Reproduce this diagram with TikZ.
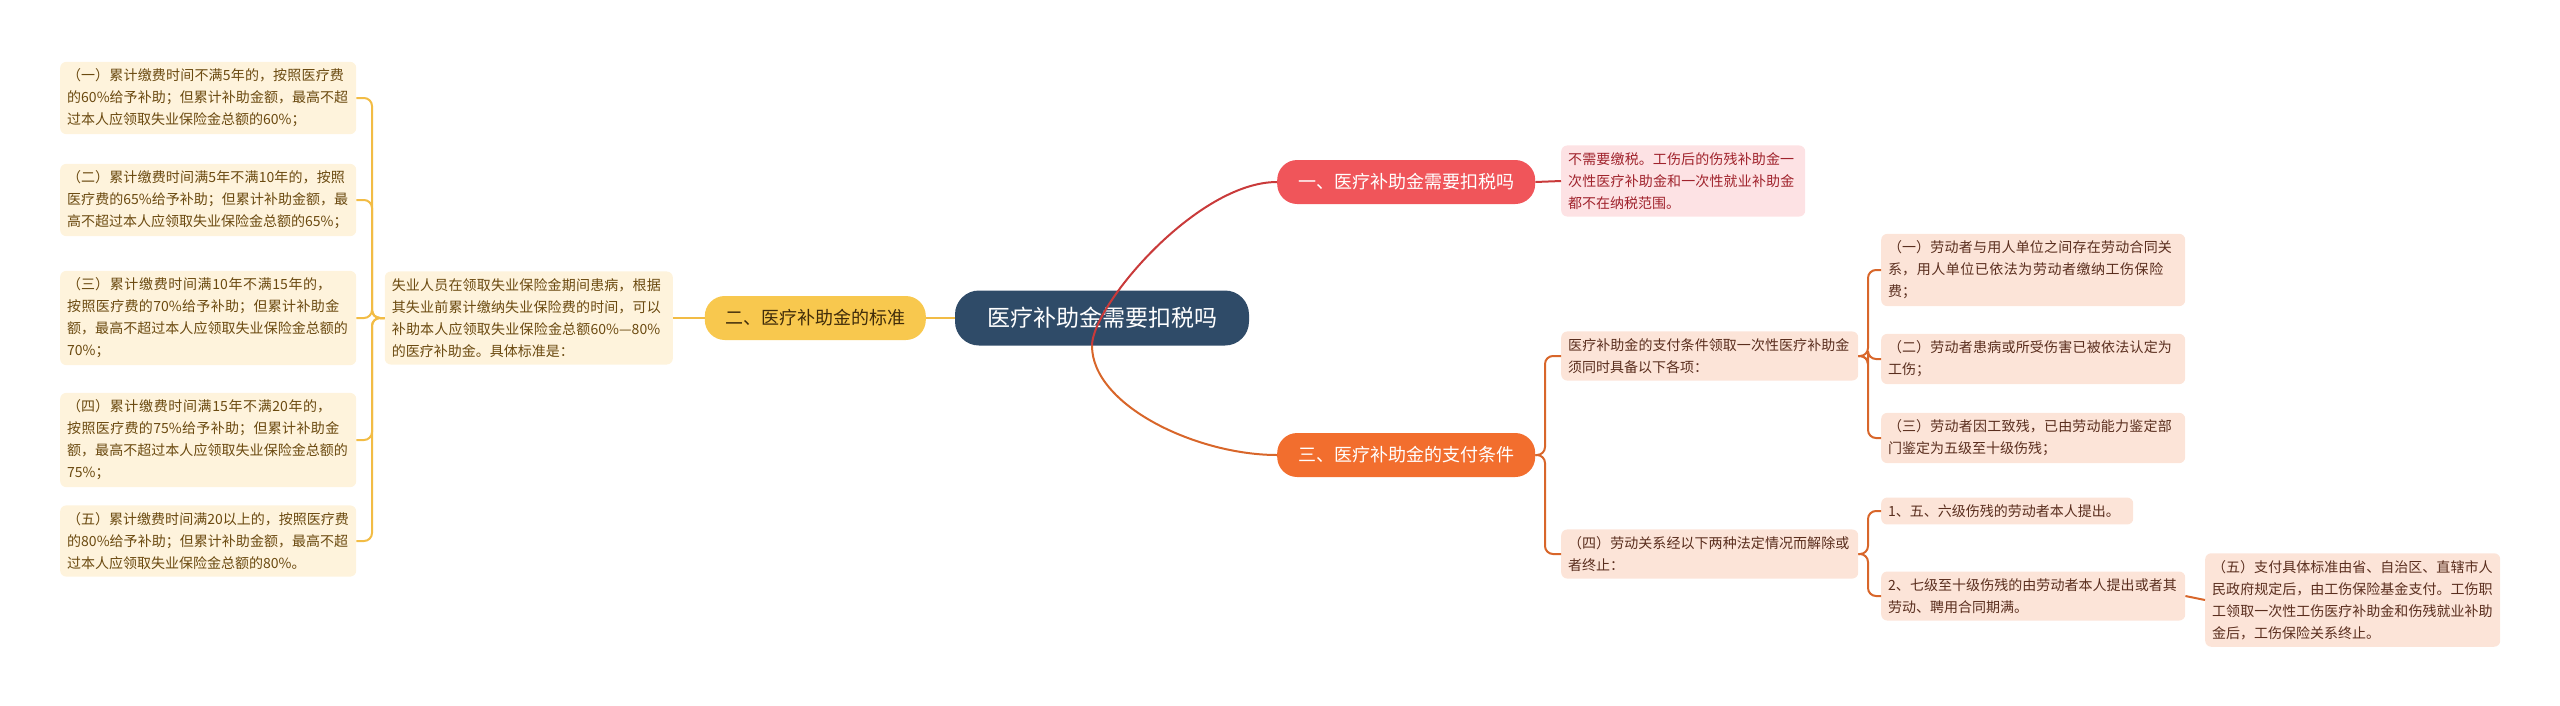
\documentclass[tikz,border=0pt]{standalone}
\usepackage{fontspec}
\setmainfont{Noto Sans CJK SC}
\XeTeXlinebreaklocale "zh"
\XeTeXlinebreakskip=0pt plus 1pt
\definecolor{yleaffill}{HTML}{FEF3DC}\definecolor{ytext}{HTML}{6B4A10}\definecolor{yline}{HTML}{F2BC45}
\definecolor{oleaffill}{HTML}{FCE4D8}\definecolor{otext}{HTML}{5A2E1E}\definecolor{oline}{HTML}{D8662A}
\definecolor{rleaffill}{HTML}{FDE2E4}\definecolor{rtext}{HTML}{A0232C}\definecolor{rline}{HTML}{C93A3A}
\definecolor{centralfill}{HTML}{2F4B68}\definecolor{rbr}{HTML}{F0555A}\definecolor{obr}{HTML}{F26E2E}\definecolor{ybr}{HTML}{F8C84E}
\begin{document}
\begin{tikzpicture}[x=1pt,y=-1pt,
 box/.style={rounded corners=6pt,inner sep=7pt,align=left,anchor=west,font=\fontsize{14}{22}\selectfont},
 yleaf/.style={box,fill=yleaffill,text=ytext,text width=#1},
 oleaf/.style={box,fill=oleaffill,text=otext,text width=#1},
 rleaf/.style={box,fill=rleaffill,text=rtext,text width=#1},
 branch/.style={rounded corners=20pt,inner xsep=16pt,minimum height=44pt,anchor=west,font=\fontsize{18}{22}\selectfont},
 yl/.style={draw=yline,line width=2pt,rounded corners=8pt},
 ol/.style={draw=oline,line width=2pt,rounded corners=8pt},
 rl/.style={draw=rline,line width=2pt}]
\useasboundingbox (0,0) rectangle (2560,705);
\node[rounded corners=24pt,fill=centralfill,text=white,minimum width=294pt,minimum height=55pt,font=\fontsize{23}{26}\selectfont] (c) at (1102,318) {医疗补助金需要扣税吗};
% branch 1
\node[branch,fill=rbr,text=white,minimum width=258pt] (b1) at (1277,182) {一、医疗补助金需要扣税吗};
\node[rleaf=230pt] (r1) at (1561,181) {不需要缴税。工伤后的伤残补助金一次性医疗补助金和一次性就业补助金都不在纳税范围。};
% branch 2
\node[branch,fill=ybr,text=ytext!60!black,minimum width=221pt,anchor=east] (b2) at (926,318) {二、医疗补助金的标准};
\node[yleaf=274pt,anchor=east] (ym) at (673,318) {失业人员在领取失业保险金期间患病，根据其失业前累计缴纳失业保险费的时间，可以补助本人应领取失业保险金总额60\%—80\%的医疗补助金。具体标准是：};
\node[yleaf=282pt] (y1) at (60,98) {（一）累计缴费时间不满5年的，按照医疗费的60\%给予补助；但累计补助金额，最高不超过本人应领取失业保险金总额的60\%；};
\node[yleaf=282pt] (y2) at (60,200) {（二）累计缴费时间满5年不满10年的，按照医疗费的65\%给予补助；但累计补助金额，最高不超过本人应领取失业保险金总额的65\%；};
\node[yleaf=282pt] (y3) at (60,318) {（三）累计缴费时间满10年不满15年的，按照医疗费的70\%给予补助；但累计补助金额，最高不超过本人应领取失业保险金总额的70\%；};
\node[yleaf=282pt] (y4) at (60,440) {（四）累计缴费时间满15年不满20年的，按照医疗费的75\%给予补助；但累计补助金额，最高不超过本人应领取失业保险金总额的75\%；};
\node[yleaf=282pt] (y5) at (60,541) {（五）累计缴费时间满20以上的，按照医疗费的80\%给予补助；但累计补助金额，最高不超过本人应领取失业保险金总额的80\%。};
% branch 3
\node[branch,fill=obr,text=white,minimum width=258pt] (b3) at (1277,455) {三、医疗补助金的支付条件};
\node[oleaf=283pt] (oa) at (1561,356) {医疗补助金的支付条件领取一次性医疗补助金须同时具备以下各项：};
\node[oleaf=290pt] (oa1) at (1881,270) {（一）劳动者与用人单位之间存在劳动合同关系，用人单位已依法为劳动者缴纳工伤保险费；};
\node[oleaf=290pt] (oa2) at (1881,359) {（二）劳动者患病或所受伤害已被依法认定为工伤；};
\node[oleaf=290pt] (oa3) at (1881,438) {（三）劳动者因工致残，已由劳动能力鉴定部门鉴定为五级至十级伤残；};
\node[oleaf=283pt] (ob) at (1561,554) {（四）劳动关系经以下两种法定情况而解除或者终止：};
\node[oleaf=238pt] (ob1) at (1881,511) {1、五、六级伤残的劳动者本人提出。};
\node[oleaf=290pt] (ob2) at (1881,596) {2、七级至十级伤残的由劳动者本人提出或者其劳动、聘用合同期满。};
\node[oleaf=281pt] (ob2a) at (2205,600) {（五）支付具体标准由省、自治区、直辖市人民政府规定后，由工伤保险基金支付。工伤职工领取一次性工伤医疗补助金和伤残就业补助金后，工伤保险关系终止。};
% connectors
\draw[rl] (c.south) ++(-10,0) .. controls +(0,-40) and +(-80,0) .. (b1.west);
\draw[rl] (b1.east) -- (r1.west);
\draw[draw=oline,line width=2pt] (c.south) ++(-10,0) .. controls +(0,60) and +(-80,0) .. (b3.west);
\draw[yl] (c.west) -- (b2.east);
\draw[yl] (b2.west) -- (ym.east);
\foreach \n in {y1,y2,y3,y4,y5} \draw[yl] (ym.west) -- (372,318) |- (\n.east);
\foreach \n in {oa,ob} \draw[ol] (b3.east) -- (1545,455) |- (\n.west);
\foreach \n in {oa1,oa2,oa3} \draw[ol] (oa.east) -- (1868,356) |- (\n.west);
\foreach \n in {ob1,ob2} \draw[ol] (ob.east) -- (1868,554) |- (\n.west);
\draw[ol] (ob2.east) -- (ob2a.west);
\end{tikzpicture}
\end{document}
